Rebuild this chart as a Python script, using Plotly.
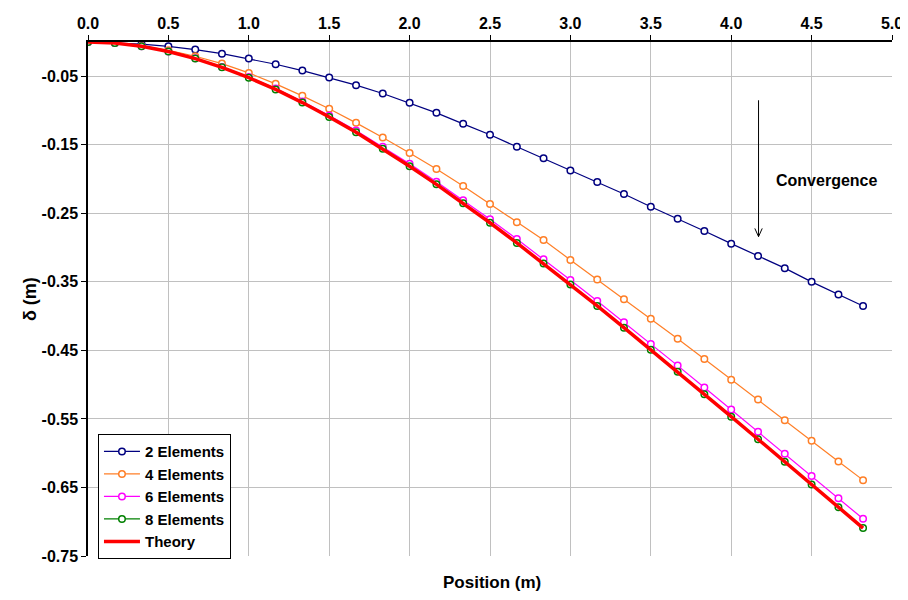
import plotly.graph_objects as go

# Positions along the beam (m)
position = [0.0, 0.167, 0.333, 0.5, 0.667, 0.833, 1.0, 1.167, 1.333, 1.5,
            1.667, 1.833, 2.0, 2.167, 2.333, 2.5, 2.667, 2.833, 3.0, 3.167,
            3.333, 3.5, 3.667, 3.833, 4.0, 4.167, 4.333, 4.5, 4.667, 4.82]

# Deflections (m)
elem2 = [0.0, -0.0015, -0.0030, -0.0063, -0.0110, -0.0170, -0.0242, -0.0325, -0.0417, -0.0519,
         -0.0630, -0.0752, -0.0888, -0.1034, -0.1194, -0.1354, -0.1529, -0.1698, -0.1875, -0.2043,
         -0.2218, -0.2403, -0.2578, -0.2757, -0.2942, -0.3121, -0.3300, -0.3500, -0.3684, -0.3853]
elem4 = [0.0, -0.0014, -0.0055, -0.0120, -0.0208, -0.0315, -0.0451, -0.0611, -0.0786, -0.0975,
         -0.1180, -0.1392, -0.1621, -0.1854, -0.2101, -0.2363, -0.2630, -0.2888, -0.3180, -0.3466,
         -0.3755, -0.4038, -0.4330, -0.4625, -0.4927, -0.5218, -0.5519, -0.5820, -0.6120, -0.6393]
elem6 = [0.0, -0.0016, -0.0062, -0.0137, -0.0238, -0.0363, -0.0511, -0.0679, -0.0867, -0.1072,
         -0.1293, -0.1529, -0.1777, -0.2038, -0.2308, -0.2588, -0.2876, -0.3171, -0.3473, -0.3779,
         -0.4090, -0.4405, -0.4722, -0.5041, -0.5363, -0.5686, -0.6009, -0.6334, -0.6658, -0.6957]
elem8 = [0.0, -0.0016, -0.0063, -0.0139, -0.0242, -0.0370, -0.0521, -0.0692, -0.0884, -0.1093,
         -0.1318, -0.1558, -0.1812, -0.2077, -0.2353, -0.2638, -0.2932, -0.3232, -0.3540, -0.3852,
         -0.4169, -0.4490, -0.4813, -0.5139, -0.5467, -0.5796, -0.6125, -0.6456, -0.6787, -0.7092]
theory = [0.0, -0.0016, -0.0063, -0.0139, -0.0242, -0.0370, -0.0521, -0.0692, -0.0884, -0.1093,
          -0.1318, -0.1558, -0.1812, -0.2077, -0.2353, -0.2638, -0.2932, -0.3233, -0.3540, -0.3852,
          -0.4169, -0.4490, -0.4813, -0.5139, -0.5467, -0.5796, -0.6126, -0.6456, -0.6787, -0.7092]

x_ticks = [0.0, 0.5, 1.0, 1.5, 2.0, 2.5, 3.0, 3.5, 4.0, 4.5, 5.0]
y_ticks = [-0.05, -0.15, -0.25, -0.35, -0.45, -0.55, -0.65, -0.75]

FONT = "Liberation Sans, Arial, sans-serif"

series = [
    ("2 Elements", elem2, "#000080"),
    ("4 Elements", elem4, "#FF7F27"),
    ("6 Elements", elem6, "#FF00FF"),
    ("8 Elements", elem8, "#008000"),
]

fig = go.Figure()
for name, vals, col in series:
    fig.add_trace(go.Scatter(
        x=position, y=vals, name=f"<b>{name}</b>", mode="lines+markers",
        line=dict(color=col, width=1.2),
        marker=dict(symbol="circle", size=6.5, color="white",
                    line=dict(color=col, width=1.5)),
    ))
fig.add_trace(go.Scatter(
    x=position, y=theory, name="<b>Theory</b>", mode="lines",
    line=dict(color="#FF0000", width=3.5),
))

# Convergence arrow
ax_x = 4.17
fig.add_shape(type="line", x0=ax_x, x1=ax_x, y0=-0.085, y1=-0.284,
              line=dict(color="black", width=1))
fig.add_shape(type="line", x0=ax_x - 0.023, x1=ax_x, y0=-0.272, y1=-0.284,
              line=dict(color="black", width=1))
fig.add_shape(type="line", x0=ax_x + 0.023, x1=ax_x, y0=-0.272, y1=-0.284,
              line=dict(color="black", width=1))
fig.add_annotation(x=4.593, y=-0.2016, text="<b>Convergence</b>", showarrow=False,
                   font=dict(family=FONT, size=16, color="black"))

fig.add_annotation(x=0.502, y=-0.052, xref="paper", yref="paper",
                   text="<b>Position (m)</b>", showarrow=False,
                   xanchor="center", yanchor="middle",
                   font=dict(family=FONT, size=17, color="black"))
fig.add_annotation(x=-0.072, y=0.5, xref="paper", yref="paper",
                   text="<b>δ (m)</b>", showarrow=False, textangle=-90,
                   xanchor="center", yanchor="middle",
                   font=dict(family=FONT, size=18, color="black"))

# The page body adds an 8px offset, so the figure is sized to fit the window
fig.update_layout(
    width=900, height=592,
    margin=dict(l=80, r=16, t=34, b=44),
    paper_bgcolor="white", plot_bgcolor="white",
    font=dict(family=FONT, size=16, color="black"),
    xaxis=dict(
        side="top", range=[0, 5], tickvals=x_ticks,
        ticktext=[f"<b>{v:.1f}</b>" for v in x_ticks],
        showgrid=True, gridcolor="#C0C0C0", gridwidth=1,
        showline=True, linecolor="black", linewidth=1.5,
        ticks="outside", ticklen=5, tickcolor="black",
        zeroline=False, tickfont=dict(size=16), automargin=False,
    ),
    yaxis=dict(
        range=[-0.75, 0], tickvals=y_ticks,
        ticktext=[f"<b>{v:.2f}</b>" for v in y_ticks],
        showgrid=True, gridcolor="#C0C0C0", gridwidth=1,
        showline=True, linecolor="black", linewidth=1.5,
        ticks="outside", ticklen=5, tickcolor="black",
        zeroline=False, tickfont=dict(size=16), automargin=False,
    ),
    legend=dict(
        x=0.0124, y=0.237, xanchor="left", yanchor="top",
        bgcolor="white", bordercolor="black", borderwidth=1,
        font=dict(family=FONT, size=15, color="black"),
        tracegroupgap=0, itemwidth=36,
    ),
    showlegend=True,
)

fig.write_html("out.html")
